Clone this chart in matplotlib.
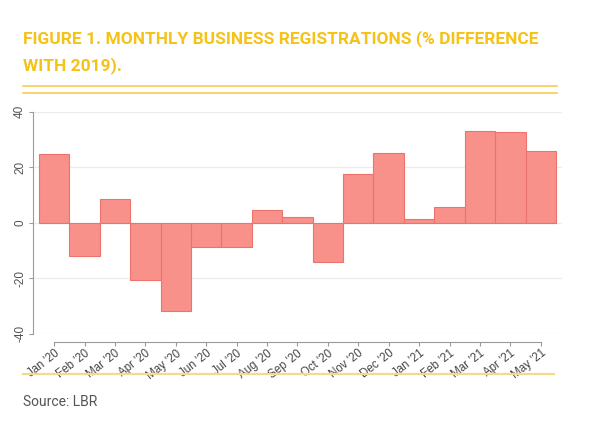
import matplotlib
matplotlib.use('Agg')
import matplotlib.pyplot as plt
from matplotlib.lines import Line2D

# Monthly business registrations, % difference with 2019
months = ["Jan '20", "Feb '20", "Mar '20", "Apr '20", "May '20", "Jun '20",
          "Jul '20", "Aug '20", "Sep '20", "Oct '20", "Nov '20", "Dec '20",
          "Jan '21", "Feb '21", "Mar '21", "Apr '21", "May '21"]
pct_diff = [24.7, -12.0, 8.5, -20.6, -32.0, -8.8, -8.8, 4.6, 2.0, -14.3,
            17.5, 25.2, 1.4, 5.6, 33.0, 32.7, 25.7]
y_ticks = [-40, -20, 0, 20, 40]

yellow = '#F5C216'
grey_axis = '#9a9a9a'

fig = plt.figure(figsize=(6, 4.4), dpi=100)
ax = fig.add_axes([0.055, 0.242, 0.8817, 0.5041])

x = list(range(len(months)))
ax.bar(x, pct_diff, width=1.0, color='#F8918A', edgecolor='#EC736C',
       linewidth=0.8, zorder=3)

ax.set_xlim(-0.697, 16.70)
ax.set_ylim(-40, 40)
ax.yaxis.grid(True, color='#ececec', linewidth=0.9, zorder=0)

for side in ['top', 'right']:
    ax.spines[side].set_visible(False)
ax.spines['left'].set_color(grey_axis)
ax.spines['bottom'].set_color(grey_axis)
ax.spines['bottom'].set_position(('outward', 6))
ax.spines['bottom'].set_bounds(0, 16)
ax.tick_params(axis='both', colors=grey_axis, length=3, width=0.8)
ax.tick_params(axis='y', pad=2)
ax.tick_params(axis='x', pad=1)

ax.set_yticks(y_ticks)
ax.set_yticklabels([str(v) for v in y_ticks])
plt.setp(ax.get_yticklabels(), rotation=90, va='center', fontsize=8.5,
         family='Liberation Sans', color='#555555')
ax.set_xticks(x)
ax.set_xticklabels(months)
plt.setp(ax.get_xticklabels(), rotation=38, ha='right',
         rotation_mode='anchor', fontsize=8.3, family='Liberation Sans',
         color='#444444')

# title block
fig.text(0.039, 0.913, 'FIGURE 1. MONTHLY BUSINESS REGISTRATIONS (% DIFFERENCE',
         fontsize=12.5, fontweight='bold', family='Roboto', color=yellow,
         va='center', ha='left')
fig.text(0.039, 0.852, 'WITH 2019).',
         fontsize=12.5, fontweight='bold', family='Roboto', color=yellow,
         va='center', ha='left')
for yy in [0.8045, 0.7893]:
    fig.add_artist(Line2D([0.038, 0.928], [yy, yy], color='#F5C842',
                          linewidth=1.1, transform=fig.transFigure))

# footer
fig.add_artist(Line2D([0.038, 0.923], [0.151, 0.151], color='#F2DC8A',
                      linewidth=1.6, transform=fig.transFigure))
fig.text(0.039, 0.086, 'Source: LBR', fontsize=10, family='Roboto',
         color='#555555', va='center', ha='left')

fig.savefig('out.png', dpi=100)
